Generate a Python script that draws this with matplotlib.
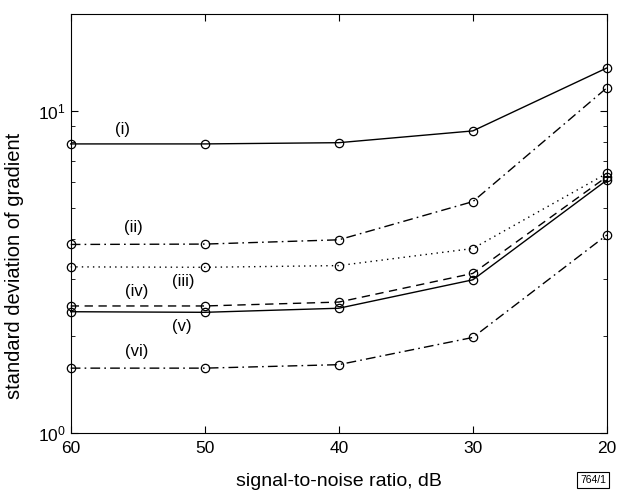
import matplotlib.pyplot as plt
from matplotlib.ticker import FixedLocator, FixedFormatter

plt.rcParams['font.family'] = ['Liberation Sans', 'DejaVu Sans']
plt.rcParams['mathtext.fontset'] = 'custom'
plt.rcParams['mathtext.rm'] = 'Liberation Sans'

# signal-to-noise ratio (dB) and std of gradient for each case
snr = [60, 50, 40, 30, 20]
case_i = [7.90, 7.90, 7.97, 8.67, 13.6]
case_ii = [3.85, 3.86, 3.98, 5.23, 11.8]
case_iii = [3.28, 3.27, 3.31, 3.74, 6.40]
case_iv = [2.48, 2.48, 2.55, 3.13, 6.25]
case_v = [2.38, 2.37, 2.44, 2.99, 6.10]
case_vi = [1.59, 1.59, 1.63, 1.98, 4.12]

names = ['(i)', '(ii)', '(iii)', '(iv)', '(v)', '(vi)']
label_x = [56.1, 55.3, 51.6, 55.1, 51.7, 55.1]
label_y = [8.75, 4.35, 2.95, 2.76, 2.14, 1.79]

dashdot = (0, (7, 3, 1.2, 3))
styles = ['-', dashdot, (0, (1, 3)), (0, (6, 4)), '-', dashdot]

fig = plt.figure(figsize=(6.18, 4.93), dpi=100)
ax = fig.add_axes([0.1144, 0.1217, 0.8676, 0.8499])

series = [case_i, case_ii, case_iii, case_iv, case_v, case_vi]
for vals, ls in zip(series, styles):
    ax.plot(snr, vals, color='black', linestyle=ls, linewidth=1.0,
            marker='o', markersize=6, markerfacecolor='none',
            markeredgewidth=0.9, clip_on=False)

for name, lx, ly in zip(names, label_x, label_y):
    ax.text(lx, ly, name, ha='center', va='center', fontsize=12)

ax.set_yscale('log')
ax.set_xlim(60, 20)
ax.set_ylim(1, 20)
ax.set_xticks(snr)
ax.set_xticklabels([str(s) for s in snr])
ax.yaxis.set_major_locator(FixedLocator([1, 10]))
ax.yaxis.set_major_formatter(FixedFormatter([r'$\mathregular{10^0}$', r'$\mathregular{10^1}$']))
ax.tick_params(which='both', direction='in', top=True, right=True, labelsize=12.5)
ax.tick_params(which='major', length=5)
ax.tick_params(which='minor', length=3)
ax.tick_params(axis='x', pad=6)

ax.set_xlabel('signal-to-noise ratio, dB', fontsize=14)
ax.set_ylabel('standard deviation of gradient', fontsize=14.5)
ax.xaxis.set_label_coords(0.5, -0.095)
ax.yaxis.set_label_coords(-0.088, 0.40)

fig.text(0.960, 0.026, '764/1', fontsize=7.5, ha='center', va='center',
         bbox=dict(boxstyle='square,pad=0.3', facecolor='white',
                   edgecolor='black', linewidth=0.8))

fig.savefig('out.png', dpi=100)
